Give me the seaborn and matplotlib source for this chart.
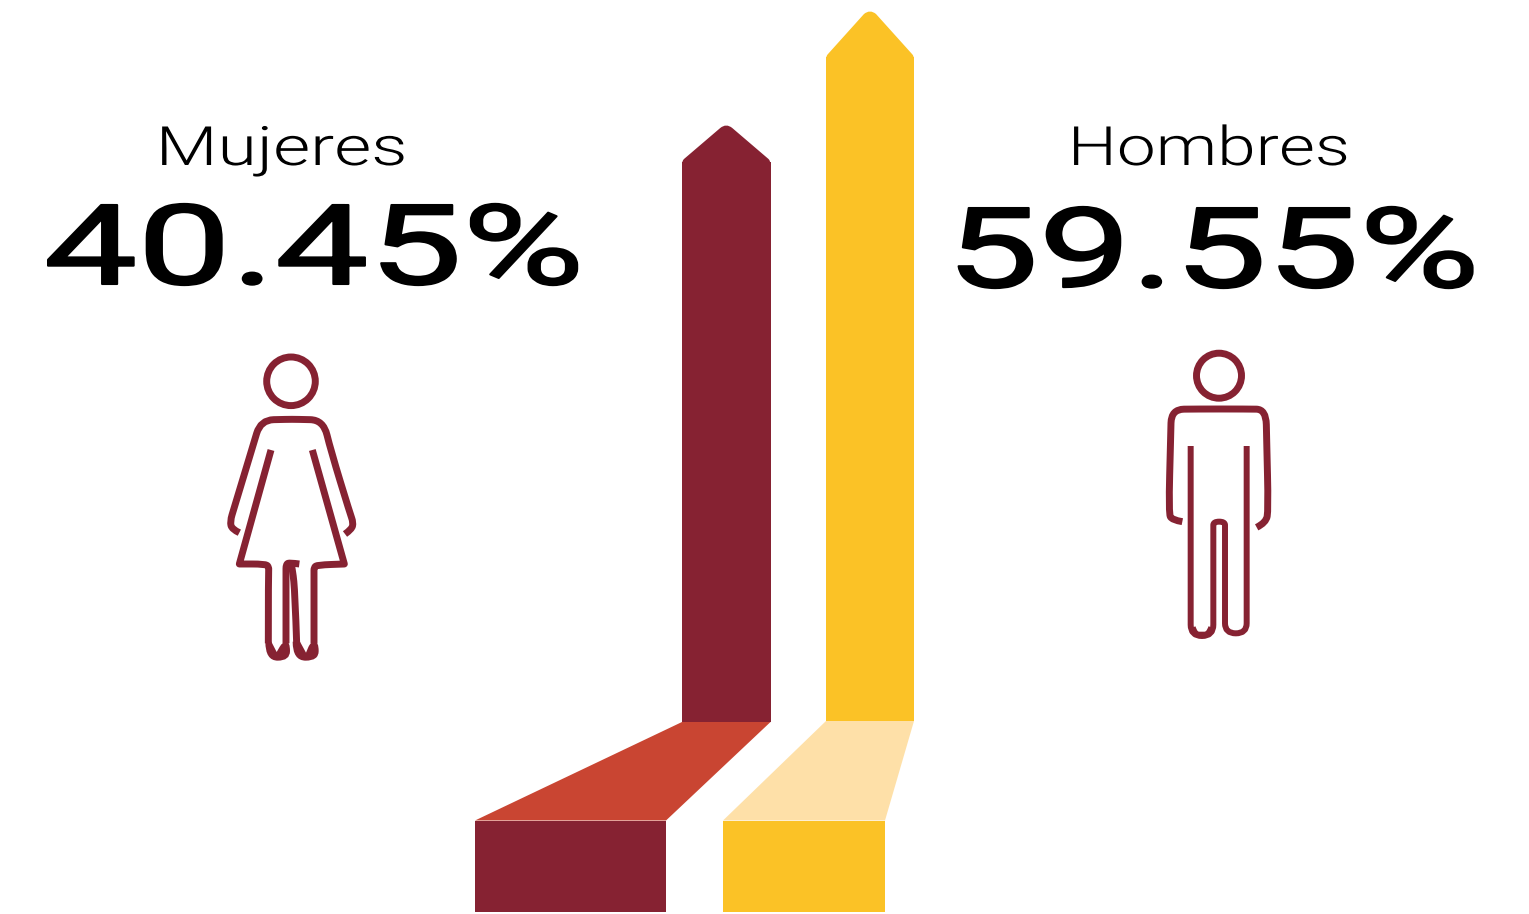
import numpy as np
import pandas as pd
import seaborn as sns
import matplotlib
matplotlib.use("Agg")
import matplotlib.pyplot as plt
from matplotlib.patches import Circle, PathPatch, Polygon
from matplotlib.path import Path
from matplotlib.patheffects import AbstractPathEffect
from matplotlib.transforms import Affine2D

# =========================
# Data
# =========================
W, H = 1529, 914

sexes = ["Mujeres", "Hombres"]
shares = [40.45, 59.55]
share_labels = ["40.45%", "59.55%"]

stem_colors = ["#862232", "#FBC226"]
band_colors = ["#C94532", "#FEE0A8"]
icon_color = "#862232"

# everything below is measured in pixels from the top of the picture
stem_left = [682, 826]
stem_right = [770.5, 914]
stem_bottom = [722, 721]
head_base = [162, 57]
head_tip = [124, 10]
base_left = [475, 723]
base_right = [666, 885]
base_top = [820.5, 820.5]
base_bottom = [912, 912]

woman_arms = [(88, 578), (66, 568), (60, 545), (72, 505), (128, 320), (152, 240), (230, 238), (262, 238),
              (340, 240), (362, 330), (420, 520), (430, 548), (425, 568), (405, 582)]
woman_left = [(183, 330), (88, 672), (88, 672), (165, 672), (177, 680), (175, 700), (175, 910)]
woman_inner_left = [(228, 910), (228, 700), (228, 672), (240, 668), (268, 672)]
woman_right = [(307, 330), (403, 672), (403, 672), (322, 675), (312, 682), (312, 700), (312, 910)]
woman_inner_right = [(260, 910), (255, 760), (248, 690), (243, 668)]
woman_foot_left = [(166, 905), (166, 962), (240, 962), (240, 905), (218, 905), (200, 936), (200, 936), (184, 905)]
woman_foot_right = [(248, 905), (248, 962), (326, 962), (326, 905), (302, 905), (288, 938), (288, 938), (270, 905)]

man_arms = [(97, 545), (66, 540), (56, 520), (62, 290), (64, 208), (140, 207), (290, 207),
            (348, 208), (350, 300), (355, 510), (348, 548), (320, 562)]
man_body = [(122, 318), (122, 820), (122, 888), (190, 888), (190, 820), (190, 565), (190, 545),
            (225, 545), (225, 565), (225, 820), (225, 880), (290, 880), (290, 820), (290, 318)]
man_foot = [(128, 862), (135, 884), (155, 884), (176, 884), (184, 862)]


# =========================
# Helper functions
# =========================
class StretchX(AbstractPathEffect):
    # the reference font is much wider than anything installed
    def __init__(self, factor, centre, stroke):
        super().__init__()
        self.factor = factor
        self.centre = centre
        self.stroke = stroke

    def draw_path(self, renderer, gc, tpath, affine, rgbFace=None):
        stretch = Affine2D().translate(-self.centre, 0).scale(self.factor, 1).translate(self.centre, 0)
        gc0 = renderer.new_gc()
        gc0.copy_properties(gc)
        gc0.set_linewidth(self.stroke)
        gc0.set_foreground("black")
        renderer.draw_path(gc0, tpath, affine + stretch, rgbFace)
        gc0.restore()


def up(y):
    return H - y


def smooth_path(points):
    # quadratic curves through the midpoints, ends stay where they are
    pts = np.array(points, dtype=float)
    verts = [pts[0]]
    codes = [Path.MOVETO]
    for i in range(1, len(pts) - 1):
        end = pts[i + 1] if i == len(pts) - 2 else (pts[i] + pts[i + 1]) / 2
        verts += [pts[i], end]
        codes += [Path.CURVE3, Path.CURVE3]
    return Path(verts, codes)


def crop_points(points, x0, y0):
    return [(x0 + x / 3, up(y0 + y / 3)) for x, y in points]


def icon_line(ax, points, x0, y0, lw):
    ax.add_patch(PathPatch(smooth_path(crop_points(points, x0, y0)), fill=False, edgecolor=icon_color, lw=lw,
                           capstyle="butt", joinstyle="round"))


def icon_fill(ax, points, x0, y0):
    ax.add_patch(PathPatch(smooth_path(crop_points(points, x0, y0)), facecolor=icon_color, edgecolor="none"))


def big_text(ax, x, y, s, size, weight, factor, stroke=0.0, family="Roboto"):
    centre = ax.transData.transform((x, 0))[0]
    txt = ax.text(x, up(y), s, fontsize=size, fontweight=weight, family=family, color="black",
                  ha="center", va="baseline")
    txt.set_path_effects([StretchX(factor, centre, stroke)])


# =========================
# Figure
# =========================
sns.set_theme(style="white")
fig = plt.figure(figsize=(W / 100, H / 100), dpi=100)
ax = fig.add_axes([0, 0, 1, 1])

for i, sex in enumerate(sexes):
    # stem of the arrow
    stem = pd.DataFrame({"x": [(stem_left[i] + stem_right[i]) / 2], "y": [stem_bottom[i] - head_base[i]]})
    sns.barplot(data=stem, x="x", y="y", native_scale=True, width=stem_right[i] - stem_left[i],
                color=stem_colors[i], saturation=1, errorbar=None, linewidth=0,
                bottom=up(stem_bottom[i]), ax=ax)

    # block at the bottom
    block = pd.DataFrame({"x": [(base_left[i] + base_right[i]) / 2], "y": [base_bottom[i] - base_top[i]]})
    sns.barplot(data=block, x="x", y="y", native_scale=True, width=base_right[i] - base_left[i],
                color=stem_colors[i], saturation=1, errorbar=None, linewidth=0,
                bottom=up(base_bottom[i]), ax=ax)

    # band between stem and block
    ax.add_patch(Polygon([(stem_left[i], up(stem_bottom[i])), (stem_right[i], up(stem_bottom[i])),
                          (base_right[i], up(base_top[i])), (base_left[i], up(base_top[i]))],
                         closed=True, facecolor=band_colors[i], edgecolor="none"))

    # arrow head with soft corners
    cx = (stem_left[i] + stem_right[i]) / 2
    left, right = stem_left[i], stem_right[i]
    base, tip = up(head_base[i]), up(head_tip[i])
    verts = [(left, base - 2), (left, base + 1), (left + 2, base + 3), (cx - 6, tip - 4), (cx, tip + 1), (cx + 6, tip - 4),
             (right - 2, base + 3), (right, base + 1), (right, base - 2), (left, base - 2)]
    codes = [Path.MOVETO, Path.CURVE3, Path.CURVE3, Path.LINETO, Path.CURVE3, Path.CURVE3,
             Path.LINETO, Path.CURVE3, Path.CURVE3, Path.CLOSEPOLY]
    ax.add_patch(PathPatch(Path(verts, codes), facecolor=stem_colors[i], edgecolor="none"))

ax.set_xlim(0, W)
ax.set_ylim(0, H)
ax.axis("off")

# labels
big_text(ax, 281.5, 165, sexes[0], 39, 300, 1.32)
big_text(ax, 1209, 165, sexes[1], 39, 300, 1.28)
big_text(ax, 314, 284, share_labels[0], 80, 400, 1.50, stroke=1.5)
big_text(ax, 1213, 287, share_labels[1], 80, 400, 1.48, stroke=1.5)

# woman
ax.add_patch(Circle((291, up(381.3)), 24.3, fill=False, edgecolor=icon_color, lw=5))
for part in [woman_arms, woman_left, woman_inner_left, woman_right, woman_inner_right]:
    icon_line(ax, part, 210, 340, 5.0)
icon_fill(ax, woman_foot_left, 210, 340)
icon_fill(ax, woman_foot_right, 210, 340)

# man
ax.add_patch(Circle((1219, up(375.7)), 22.5, fill=False, edgecolor=icon_color, lw=5))
icon_line(ax, man_arms, 1150, 340, 5.0)
icon_line(ax, man_body, 1150, 340, 4.3)
icon_line(ax, man_foot, 1150, 340, 4.3)

fig.savefig("out.png", dpi=100)
